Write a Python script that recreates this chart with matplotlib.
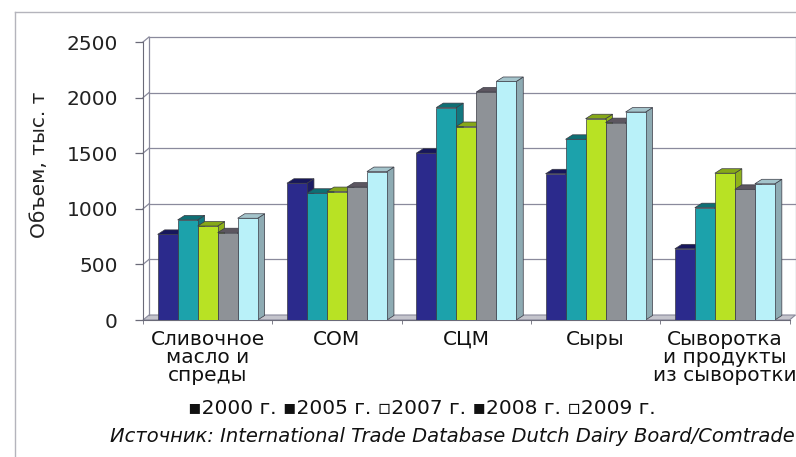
import numpy as np
import matplotlib
matplotlib.use('Agg')
import matplotlib.pyplot as plt
from matplotlib.patches import Polygon, Rectangle

# ── Данные: экспорт молочной продукции, тыс. т ─────────────────────────────
categories = ['Сливочное\nмасло и\nспреды', 'СОМ', 'СЦМ', 'Сыры',
              'Сыворотка\nи продукты\nиз сыворотки']
years = ['2000 г.', '2005 г.', '2007 г.', '2008 г.', '2009 г.']
v2000 = [770, 1230, 1500, 1315, 640]
v2005 = [900, 1140, 1910, 1625, 1010]
v2007 = [845, 1155, 1740, 1810, 1320]
v2008 = [785, 1195, 2050, 1775, 1175]
v2009 = [915, 1335, 2145, 1870, 1225]
series = [v2000, v2005, v2007, v2008, v2009]
yticks = [0, 500, 1000, 1500, 2000, 2500]

# цвета: лицевая грань, верх, бок
front = ['#2b2a8c', '#1ca2ab', '#b8e224', '#8e9297', '#b9f1f9']
top   = ['#17175c', '#0e6f74', '#86a818', '#5c5660', '#a4c4cb']
side  = ['#1d1d66', '#127880', '#8fb21a', '#6c7076', '#8eabb3']
marks = ['▪', '▪', '▫', '▪', '▫']   # значки легенды (ч/б печать)

FONT = 'DejaVu Sans'
W, H, DPI = 796, 457, 100
fig = plt.figure(figsize=(W / DPI, H / DPI), dpi=DPI, facecolor='white')

# положение передней плоскости в пикселях
x0_px, x1_px, y0_px, y1_px = 143, 789.5, 320, 42
ax = fig.add_axes([x0_px / W, 1 - y0_px / H, (x1_px - x0_px) / W, (y0_px - y1_px) / H])
ax.set_xlim(-0.5, 4.5)
ax.set_ylim(0, 2500)

px_x = (x1_px - x0_px) / 5.0       # пикселей на категорию
px_y = (y0_px - y1_px) / 2500.0    # пикселей на единицу
dxw, dyw = 6 / px_x, 5 / px_y      # глубина стенок
dxb, dyb = 7 / px_x, 4.5 / px_y    # глубина столбиков

grid_c = '#8a8a9c'

# пол
ax.add_patch(Polygon([(-0.5, 0), (4.5, 0), (4.5 + dxw, dyw), (-0.5 + dxw, dyw)],
                     closed=True, facecolor='#c4c4cc', edgecolor=grid_c,
                     lw=0.8, clip_on=False, zorder=1))
# задняя стенка и линии сетки
for v in yticks[1:]:
    ax.plot([-0.5 + dxw, 4.5 + dxw], [v + dyw, v + dyw], color=grid_c, lw=0.9,
            clip_on=False, zorder=1)
    ax.plot([-0.5, -0.5 + dxw], [v, v + dyw], color=grid_c, lw=0.9,
            clip_on=False, zorder=1)
for xe in (-0.5 + dxw, 4.5 + dxw):
    ax.plot([xe, xe], [dyw, 2500 + dyw], color=grid_c, lw=0.9,
            clip_on=False, zorder=1)

# столбики
bw = 20 / px_x
x = np.arange(len(categories))
for i in range(len(categories)):
    for k, vals in enumerate(series):
        xl = x[i] + (k - 2.5) * bw
        h = vals[i]
        ax.add_patch(Polygon([(xl + bw, 0), (xl + bw, h), (xl + bw + dxb, h + dyb),
                              (xl + bw + dxb, dyb)], closed=True,
                             facecolor=side[k], edgecolor='#3a3a44', lw=0.5,
                             zorder=3))
        ax.add_patch(Polygon([(xl, h), (xl + dxb, h + dyb), (xl + bw + dxb, h + dyb),
                              (xl + bw, h)], closed=True, facecolor=top[k],
                             edgecolor='#3a3a44', lw=0.5, zorder=3, clip_on=False))
        ax.add_patch(Rectangle((xl, 0), bw, h, facecolor=front[k],
                               edgecolor='#3a3a44', lw=0.5, zorder=3))

# оси
for s in ('top', 'right'):
    ax.spines[s].set_visible(False)
ax.spines['left'].set_color('#6a6a78')
ax.spines['bottom'].set_color('#6a6a78')
ax.set_yticks(yticks)
ax.set_yticklabels([str(v) for v in yticks], fontsize=14.5, family=FONT,
                   color='#222222')
ax.tick_params(axis='y', length=6, width=0.9, color='#6a6a78', pad=12)
ax.set_xticks(x)
ax.set_xticklabels(categories, fontsize=14.5, family=FONT,
                   linespacing=0.95, color='#111111')
ax.tick_params(axis='x', length=0, pad=7)
ax.set_xticks(np.arange(-0.5, 5, 1.0), minor=True)
ax.tick_params(axis='x', which='minor', length=3, color='#6a6a78')

fig.text(40 / W, 1 - 165 / H, 'Объем, тыс. т', rotation=90, ha='center',
         va='center', fontsize=14.5, family=FONT, color='#222222')

# легенда
fig.text(422 / W, 1 - 408 / H, ' '.join(m + y for m, y in zip(marks, years)),
         ha='center', va='center', fontsize=14.5, family=FONT, color='#111111')

fig.text(110 / W, 1 - 437 / H,
         'Источник: International Trade Database Dutch Dairy Board/Comtrade',
         ha='left', va='center', fontsize=14, style='italic',
         family=FONT, color='#111111')

# рамка области диаграммы
fig.add_artist(plt.Line2D([15 / W, 15 / W], [0, 1 - 12 / H], transform=fig.transFigure,
                          color='#b4b4bc', lw=1))
fig.add_artist(plt.Line2D([15 / W, 1], [1 - 12 / H, 1 - 12 / H],
                          transform=fig.transFigure, color='#b4b4bc', lw=1))

fig.savefig('out.png', dpi=DPI, facecolor='white')
